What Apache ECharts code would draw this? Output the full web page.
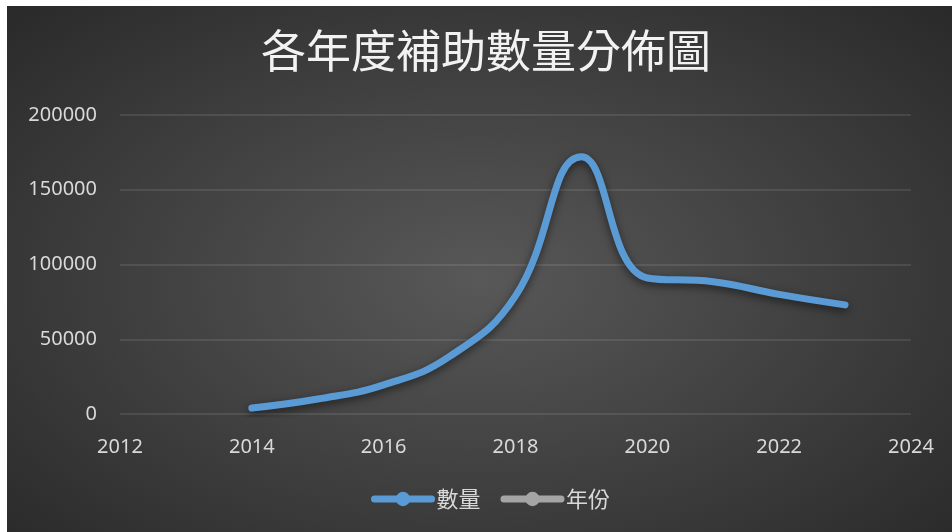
<!DOCTYPE html>
<html>
<head>
<meta charset="utf-8">
<script src="https://cdn.jsdelivr.net/npm/echarts@6/dist/echarts.min.js"></script>
<style>
html,body{margin:0;padding:0;background:#ffffff;width:952px;height:532px;overflow:hidden;}
#chart{position:absolute;left:7px;top:6px;width:945px;height:526px;
background:radial-gradient(ellipse 75% 80% at 50% 52%, #585858 0%, #3a3a3a 60%, #262626 100%);}
</style>
</head>
<body>
<div id="chart"></div>
<script>
const titleText = '各年度補助數量分佈圖';
const years = [2014, 2015, 2016, 2017, 2018, 2019, 2020, 2021, 2022, 2023];
const counts = [4000, 10000, 19500, 38500, 79000, 172000, 91000, 88500, 80000, 73000];
const seriesNames = ['數量', '年份'];
const xTicks = { min: 2012, max: 2024, interval: 2 };
const yTicks = { min: 0, max: 200000, interval: 50000 };

const chart = echarts.init(document.getElementById('chart'), null, {renderer: 'canvas'});
const labelFont = '"Noto Sans", "Liberation Sans", sans-serif';
chart.setOption({
  backgroundColor: 'transparent',
  animation: false,
  title: {
    text: titleText,
    left: 474,
    textAlign: 'center',
    top: 17,
    textStyle: { color: '#f2f2f2', fontSize: 45, fontWeight: 'normal', fontFamily: '"Noto Sans CJK TC", sans-serif' }
  },
  legend: {
    bottom: 17,
    left: 359,
    itemWidth: 57,
    itemHeight: 18,
    itemGap: 20,
    lineStyle: { width: 7, cap: 'round' },
    textStyle: { color: '#d9d9d9', fontSize: 22, fontFamily: '"Noto Sans CJK TC", sans-serif' },
    data: seriesNames
  },
  grid: { left: 113, right: 41, top: 109, bottom: 118 },
  xAxis: {
    type: 'value',
    min: xTicks.min, max: xTicks.max, interval: xTicks.interval,
    axisLine: { show: false },
    axisTick: { show: false },
    splitLine: { show: false },
    axisLabel: { color: '#d9d9d9', fontSize: 20, fontFamily: labelFont, margin: 23, formatter: v => String(v) }
  },
  yAxis: {
    type: 'value',
    min: yTicks.min, max: yTicks.max, interval: yTicks.interval,
    axisLine: { show: false },
    axisTick: { show: false },
    splitLine: { lineStyle: { color: 'rgba(255,255,255,0.13)', width: 1.5 } },
    axisLabel: { color: '#d9d9d9', fontSize: 20, fontFamily: labelFont, margin: 23, formatter: v => String(v) }
  },
  series: [
    {
      name: seriesNames[0],
      type: 'line',
      smooth: 0.45,
      symbol: 'circle',
      symbolSize: 14,
      showSymbol: false,
      itemStyle: { color: '#5b9bd5' },
      lineStyle: { color: '#5b9bd5', width: 7, cap: 'round', join: 'round',
        shadowColor: 'rgba(0,0,0,0.55)', shadowBlur: 8, shadowOffsetY: 3 },
      data: years.map((y, i) => [y, counts[i]])
    },
    {
      name: seriesNames[1],
      type: 'line',
      symbol: 'circle',
      symbolSize: 14,
      showSymbol: false,
      itemStyle: { color: '#a5a5a5' },
      lineStyle: { color: '#a5a5a5', width: 7, cap: 'round' },
      data: []
    }
  ]
});
</script>
</body>
</html>
